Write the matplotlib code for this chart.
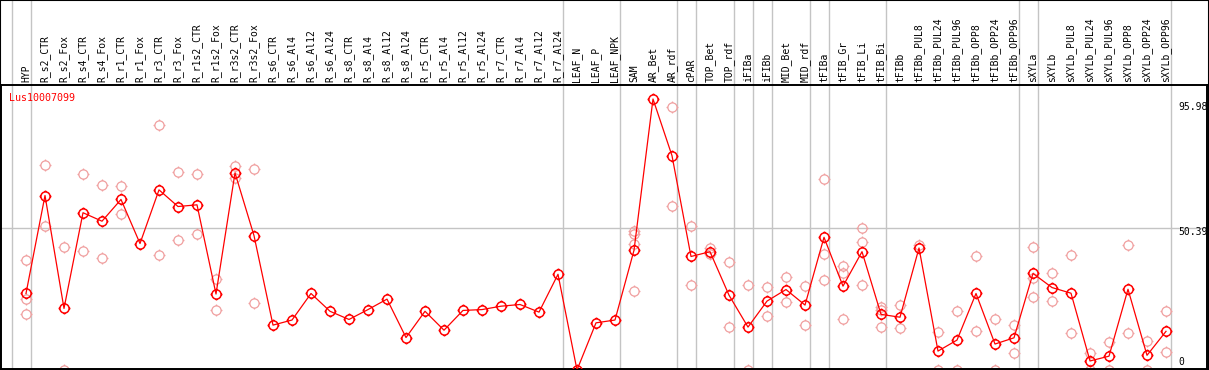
import matplotlib
matplotlib.use('Agg')
import matplotlib.pyplot as plt
from matplotlib.path import Path
from matplotlib.patches import Rectangle

# category labels along the top
samples = [
    "HYP", "R_s2_CTR", "R_s2_Fox", "R_s4_CTR", "R_s4_Fox", "R_r1_CTR", "R_r1_Fox",
    "R_r3_CTR", "R_r3_Fox", "R_r1s2_CTR", "R_r1s2_Fox", "R_r3s2_CTR", "R_r3s2_Fox",
    "R_s6_CTR", "R_s6_Al4", "R_s6_Al12", "R_s6_Al24", "R_s8_CTR", "R_s8_Al4",
    "R_s8_Al12", "R_s8_Al24", "R_r5_CTR", "R_r5_Al4", "R_r5_Al12", "R_r5_Al24",
    "R_r7_CTR", "R_r7_Al4", "R_r7_Al12", "R_r7_Al24", "LEAF_N", "LEAF_P", "LEAF_NPK",
    "SAM", "AR_Bet", "AR_rdf", "cPAR", "TOP_Bet", "TOP_rdf", "iFIBa", "iFIBb",
    "MID_Bet", "MID_rdf", "tFIBa", "tFIB_Gr", "tFIB_Li", "tFIB_Bi", "tFIBb",
    "tFIBb_PUL8", "tFIBb_PUL24", "tFIBb_PUL96", "tFIBb_OPP8", "tFIBb_OPP24",
    "tFIBb_OPP96", "sXYLa", "sXYLb", "sXYLb_PUL8", "sXYLb_PUL24", "sXYLb_PUL96",
    "sXYLb_OPP8", "sXYLb_OPP24", "sXYLb_OPP96",
]

# mean expression (red line)
means = [
    27.1, 61.8, 21.8, 55.7, 52.7, 60.4, 44.8, 63.8, 57.9, 58.5, 26.9, 69.8, 47.6,
    15.9, 17.7, 27.1, 20.8, 17.9, 21.4, 25.1, 11.5, 20.8, 14.1, 21.1, 21.4, 22.6,
    23.2, 20.5, 33.9, 0.0, 16.7, 17.7, 42.4, 95.98, 75.9, 40.2, 41.9, 26.5, 15.2,
    24.4, 28.5, 23.0, 47.0, 29.7, 41.9, 19.7, 18.7, 43.2, 6.7, 10.6, 27.1, 9.2,
    11.4, 34.2, 29.2, 27.2, 3.2, 4.9, 28.6, 5.2, 13.7,
]

# individual replicates (pale circles)
replicates = [
    [39.1, 25.0, 19.8], [72.7, 50.9], [43.4, 0.0], [69.5, 42.0], [65.6, 39.5],
    [65.0, 55.4], [], [86.8, 40.9], [70.3, 45.9], [69.3, 48.3], [32.4, 21.1],
    [72.1, 68.1], [71.2, 23.7],
    [], [], [], [], [], [], [], [], [], [], [], [], [], [], [], [], [], [], [],
    [49.2, 48.3, 44.5, 27.9], [], [93.3, 58.2], [50.9, 30.0], [43.2, 41.2],
    [38.2, 15.2], [30.0, 0.0], [29.3, 19.0], [33.1, 24.0], [29.7, 15.9],
    [67.8, 41.0, 32.0], [37.0, 34.2, 18.0], [50.2, 45.5, 30.0], [22.4, 21.4, 15.4],
    [22.9, 14.7], [44.2], [13.3, 0.0], [20.8, 0.0], [40.5, 13.8], [18.0, 0.0],
    [16.1, 5.9], [43.7, 32.7, 26.0], [34.2, 24.4], [40.9, 13.0], [5.9, 0.0],
    [9.8, 0.0], [44.4, 13.0], [10.1, 0.0], [20.8, 6.3],
]

# last index of each sample group
group_ends = [-1, 0, 28, 31, 34, 35, 37, 38, 39, 41, 42, 45, 52, 53, 60]

scale_vals = [95.98, 50.39, 0]
scale_labels = ["95.98", "50.39", "0"]
gene = "Lus10007099"

W, H = 1209, 370
fig = plt.figure(figsize=(W / 100, H / 100), dpi=100)
# plot area: x pixels 1..1207, y pixels 85..369
ax = fig.add_axes([1 / W, 1 / H, 1206 / W, 284 / H])
ppu = 271 / 95.98
ax.set_ylim((370 - 369) / ppu, (370 - 85) / ppu)
ax.set_xlim((1 - 26) / 19, (1207 - 26) / 19)
ax.set_xticks([])
ax.set_yticks([])
for sp in ax.spines.values():
    sp.set_linewidth(1.4)

# circle marker with small ticks
circ = Path.unit_circle()
stubs = [Path([[0, 1], [0, 1.3]]), Path([[0, -1], [0, -1.3]]),
         Path([[1, 0], [1.3, 0]]), Path([[-1, 0], [-1.3, 0]])]
mk = Path.make_compound_path(circ, *stubs)

grey = '#c4c4c4'
xt = ax.get_xaxis_transform()
top = 369 / 284
for g in group_ends:
    ax.plot([g + 0.25, g + 0.25], [0, top], transform=xt, clip_on=False,
            color=grey, lw=1.0, zorder=1)
ax.axhline(scale_vals[1], color=grey, lw=1.0, zorder=1)

x = list(range(len(samples)))
px, py = [], []
for i, reps in enumerate(replicates):
    for v in reps:
        px.append(i)
        py.append(v)
ax.plot(px, py, ls='none', marker=mk, ms=8.6, mfc='none', mec='#f0a0a0',
        mew=0.9, zorder=2)
ax.plot(x, means, color='red', lw=0.9, marker=mk, ms=8.6, mfc='none',
        mec='red', mew=1.1, zorder=3)

mono = 'DejaVu Sans Mono'
for i, name in enumerate(samples):
    ax.text(i, 1 + 3 / 284, name, transform=xt, rotation=90, ha='center',
            va='bottom', fontsize=7, family=mono, clip_on=False)

ax.text(8 / 1206, (369 - 101) / 284, gene, transform=ax.transAxes, color='red',
        fontsize=7.2, family=mono, va='baseline', ha='left')

yt = ax.get_yaxis_transform()
base_off = [-3.9, -2.6, 1.8]
for v, lab, off in zip(scale_vals, scale_labels, base_off):
    ax.text((1178 - 1) / 1206, v + off, lab, transform=yt, fontsize=7,
            family=mono, va='baseline', ha='left')

fig.patches.append(Rectangle((0, 0), 1, 1, transform=fig.transFigure,
                             fill=False, ec='black', lw=1.5))

fig.savefig('out.png', dpi=100)
